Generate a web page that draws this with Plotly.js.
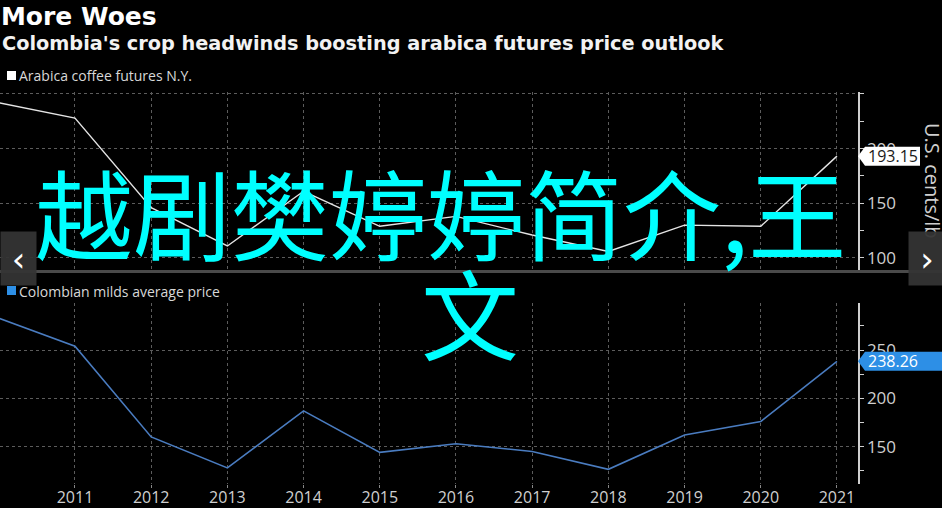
<!DOCTYPE html>
<html>
<head>
<meta charset="utf-8">
<script src="https://cdn.plot.ly/plotly-3.0.1.min.js"></script>
<style>
html,body{margin:0;padding:0;background:#000;}
#chart{width:942px;height:508px;}
</style>
</head>
<body>
<div id="chart"></div>
<script>
// ---- data ----
const years = [2010, 2011, 2012, 2013, 2014, 2015, 2016, 2017, 2018, 2019, 2020, 2021];
const arabicaPrices = [242, 228, 146, 111, 161, 129, 138, 121, 106, 130, 129, 193.15];
const coloMildsPrices = [283, 254, 160, 128, 187, 144, 153, 145, 126.5, 162, 176, 238.26];
const yearTicks = [2011, 2012, 2013, 2014, 2015, 2016, 2017, 2018, 2019, 2020, 2021];
const seriesNames = ['Arabica coffee futures N.Y.', 'Colombian milds average price'];
const topTicks = [100, 150, 200, 250];
const topTickText = ['100', '150', '200', ''];
const bottomTicks = [150, 200, 250];
const titleText = 'More Woes';
const subtitleText = "Colombia's crop headwinds boosting arabica futures price outlook";
const unitText = 'U.S. cents/lb';
const overlayLine1 = '越剧樊婷婷简介,王';
const overlayLine2 = '文';

// ---- layout helpers ----
const W = 942, H = 508;
const px = v => v / W;
const py = v => 1 - v / H;
const plotRight = px(858);

const gridCol = '#5c5c5c';
const axisCol = '#cfcfcf';
const tickFont = {family: 'Open Sans, sans-serif', size: 17, color: '#cfcfcf'};
const legendFont = {family: 'Liberation Sans Narrow, Open Sans, sans-serif', size: 14, color: '#d8d8d8'};

const lastA = arabicaPrices[arabicaPrices.length - 1];
const lastM = coloMildsPrices[coloMildsPrices.length - 1];

const traces = [
  {x: years, y: arabicaPrices, xaxis: 'x', yaxis: 'y', type: 'scatter', mode: 'lines',
   name: seriesNames[0], line: {color: '#e4e4e4', width: 1.4}, hoverinfo: 'skip', showlegend: false},
  {x: years, y: coloMildsPrices, xaxis: 'x2', yaxis: 'y2', type: 'scatter', mode: 'lines',
   name: seriesNames[1], line: {color: '#4a7cc0', width: 1.6}, hoverinfo: 'skip', showlegend: false}
];

const xCommon = {
  domain: [0, plotRight], range: [2010.016, 2021.276],
  tickmode: 'array', tickvals: yearTicks,
  showgrid: true, gridcolor: gridCol, griddash: 'dot', gridwidth: 1,
  zeroline: false, showline: false, fixedrange: true
};

const layout = {
  width: W, height: H,
  paper_bgcolor: '#000', plot_bgcolor: '#000',
  margin: {l: 0, r: 0, t: 0, b: 0},
  showlegend: false,
  title: {
    text: '<b>' + titleText + '</b>',
    font: {family: 'DejaVu Sans, sans-serif', size: 25, color: '#ffffff'},
    xref: 'container', x: 0.001, xanchor: 'left',
    yref: 'container', y: py(16), yanchor: 'middle'
  },
  xaxis: Object.assign({}, xCommon, {anchor: 'y', showticklabels: false, ticks: ''}),
  xaxis2: Object.assign({}, xCommon, {anchor: 'y2', showticklabels: true, ticks: 'outside',
    ticklen: 3, tickcolor: '#888', ticklabelstandoff: -4,
    tickfont: {family: 'Open Sans, sans-serif', size: 16, color: '#cfcfcf'}}),
  yaxis: {
    domain: [py(270), py(92)], range: [89, 251.8], side: 'right', anchor: 'x',
    tickmode: 'array', tickvals: topTicks, ticktext: topTickText,
    ticks: 'outside', ticklen: 4, tickcolor: axisCol, tickwidth: 1,
    showline: true, linecolor: axisCol, linewidth: 1.5,
    showgrid: true, gridcolor: gridCol, griddash: 'dot', gridwidth: 1,
    zeroline: false, tickfont: tickFont, fixedrange: true,
    minor: {tickmode: 'array', tickvals: [125, 175, 225], ticks: 'outside', ticklen: 4, tickcolor: axisCol, showgrid: false}
  },
  yaxis2: {
    domain: [py(484), py(303)], range: [111.3, 298.65], side: 'right', anchor: 'x2',
    tickmode: 'array', tickvals: bottomTicks,
    ticks: 'outside', ticklen: 4, tickcolor: axisCol, tickwidth: 1,
    showline: true, linecolor: axisCol, linewidth: 1.5,
    showgrid: true, gridcolor: gridCol, griddash: 'dot', gridwidth: 1,
    zeroline: false, tickfont: tickFont, fixedrange: true,
    minor: {tickmode: 'array', tickvals: [125, 175, 225, 275], ticks: 'outside', ticklen: 4, tickcolor: axisCol, showgrid: false}
  },
  shapes: [
    // separator between the panels
    {type: 'rect', xref: 'paper', yref: 'paper', x0: 0, x1: 1, y0: py(273), y1: py(270),
     fillcolor: '#4a4a4a', line: {width: 0}, layer: 'above'},
    // legend swatches
    {type: 'rect', xref: 'paper', yref: 'paper', x0: px(7), x1: px(16), y0: py(80), y1: py(71),
     fillcolor: '#ffffff', line: {width: 0}},
    {type: 'rect', xref: 'paper', yref: 'paper', x0: px(7), x1: px(16), y0: py(295), y1: py(286),
     fillcolor: '#2d8fe6', line: {width: 0}},
    // last-value label boxes
    {type: 'path', xref: 'paper', yref: 'y', ysizemode: 'pixel', yanchor: lastA,
     path: `M ${plotRight},0 L ${px(865)},9.5 L ${px(920)},9.5 L ${px(920)},-9.5 L ${px(865)},-9.5 Z`,
     fillcolor: '#ffffff', line: {width: 0}, layer: 'above'},
    {type: 'path', xref: 'paper', yref: 'y2', ysizemode: 'pixel', yanchor: lastM,
     path: `M ${plotRight},0 L ${px(865)},9.5 L ${px(945)},9.5 L ${px(945)},-9.5 L ${px(865)},-9.5 Z`,
     fillcolor: '#2d8fe6', line: {width: 0}, layer: 'above'}
  ],
  annotations: [
    {text: '<b>' + subtitleText + '</b>', xref: 'paper', yref: 'paper', x: 0, y: py(44),
     xanchor: 'left', yanchor: 'middle', showarrow: false,
     font: {family: 'DejaVu Sans, sans-serif', size: 19.3, color: '#f2f2f2'}},
    {text: seriesNames[0], xref: 'paper', yref: 'paper', x: px(17), y: py(75.5),
     xanchor: 'left', yanchor: 'middle', showarrow: false, font: legendFont},
    {text: seriesNames[1], xref: 'paper', yref: 'paper', x: px(17), y: py(291),
     xanchor: 'left', yanchor: 'middle', showarrow: false, font: legendFont},
    {text: lastA.toFixed(2), xref: 'paper', yref: 'y', x: px(866), y: lastA,
     xanchor: 'left', yanchor: 'middle', showarrow: false,
     font: {family: 'Open Sans, sans-serif', size: 16, color: '#1a1a1a'}},
    {text: lastM.toFixed(2), xref: 'paper', yref: 'y2', x: px(866), y: lastM,
     xanchor: 'left', yanchor: 'middle', showarrow: false,
     font: {family: 'Open Sans, sans-serif', size: 16, color: '#ffffff'}},
    {text: unitText, xref: 'paper', yref: 'paper', x: px(933), y: py(181),
     xanchor: 'center', yanchor: 'middle', textangle: 90, showarrow: false,
     font: {family: 'Open Sans, sans-serif', size: 20, color: '#cfcfcf'}},
    // big overlay text
    {text: overlayLine1, xref: 'paper', yref: 'paper', x: px(33), y: py(210),
     xanchor: 'left', yanchor: 'middle', showarrow: false,
     font: {family: 'Noto Sans CJK SC, sans-serif', size: 98, color: '#00ffff'}},
    {text: overlayLine2, xref: 'paper', yref: 'paper', x: px(470), y: py(310),
     xanchor: 'center', yanchor: 'middle', showarrow: false,
     font: {family: 'Noto Sans CJK SC, sans-serif', size: 98, color: '#00ffff'}},
    // navigation buttons
    {text: '‹', xref: 'paper', yref: 'paper', x: 0, y: py(258.5), xanchor: 'left', yanchor: 'middle',
     width: 35, height: 53, borderpad: 0, bgcolor: 'rgba(52,52,52,0.95)', showarrow: false,
     font: {family: 'DejaVu Sans, sans-serif', size: 34, color: '#ffffff'}},
    {text: '›', xref: 'paper', yref: 'paper', x: px(908), y: py(258.5), xanchor: 'left', yanchor: 'middle',
     width: 36, height: 53, borderpad: 0, bgcolor: 'rgba(52,52,52,0.95)', showarrow: false,
     font: {family: 'DejaVu Sans, sans-serif', size: 34, color: '#ffffff'}}
  ]
};

Plotly.newPlot('chart', traces, layout, {staticPlot: true, displayModeBar: false});
</script>
</body>
</html>
